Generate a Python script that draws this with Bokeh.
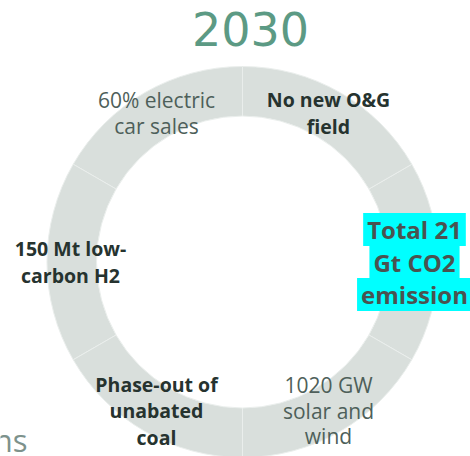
import numpy as np
from bokeh.plotting import figure
from bokeh.models import ColumnDataSource, Range1d
from bokeh.core.properties import value
from bokeh.embed import file_html
from bokeh.resources import INLINE

# ---- data ----
title_text = "2030"
milestones = [
    "Total 21\nGt CO2\nemission",
    "No new O&G\nfield",
    "60% electric\ncar sales",
    "150 Mt low-\ncarbon H2",
    "Phase-out of\nunabated\ncoal",
    "1020 GW\nsolar and\nwind",
]
shares = [1, 1, 1, 1, 1, 1]
is_bold = [True, True, False, True, True, False]
is_highlight = [True, False, False, False, False, False]
side_note = "ns"

# ---- geometry (pixel-like data space) ----
W, H = 470, 456
cx, cy = 242, 194.5
r_in, r_out = 146, 195.5
r_lab = 172

total = float(sum(shares))
cum = np.concatenate([[0], np.cumsum(shares)[:-1]])
start = -np.pi / 6 + 2 * np.pi * cum / total
end = start + 2 * np.pi * np.array(shares) / total
mid = (start + end) / 2

p = figure(width=W, height=H, x_range=Range1d(0, W), y_range=Range1d(0, H),
           output_backend="svg", toolbar_location=None, min_border=0)
p.axis.visible = False
p.grid.visible = False
p.outline_line_color = None
p.background_fill_color = "white"
p.border_fill_color = "white"

ring = ColumnDataSource(dict(start=start, end=end))
p.annular_wedge(x=cx, y=cy, inner_radius=r_in, outer_radius=r_out,
                start_angle="start", end_angle="end", source=ring,
                fill_color="#d9dfdc", line_color="#eaeeec", line_width=1)

# title
p.text(x=[250], y=[427.5], text=[title_text], text_font=value("DejaVu Sans"),
       text_font_size="46px", text_color="#5c9a84", text_align="center",
       text_baseline="middle")

# labels
lx = cx + r_lab * np.cos(mid)
ly = cy + r_lab * np.sin(mid)
reg = dict(x=[], y=[], t=[])
bld = dict(x=[], y=[], t=[])
hl = dict(x=[], y=[], t=[])
for i, lab in enumerate(milestones):
    if is_highlight[i]:
        lines = lab.split("\n")
        n = len(lines)
        step = 32.5
        for j, ln in enumerate(lines):
            hl["x"].append(lx[i])
            hl["y"].append(ly[i] + ((n - 1) / 2 - j) * step)
            hl["t"].append(ln)
    elif is_bold[i]:
        bld["x"].append(lx[i]); bld["y"].append(ly[i]); bld["t"].append(lab)
    else:
        reg["x"].append(lx[i]); reg["y"].append(ly[i]); reg["t"].append(lab)

p.text(x="x", y="y", text="t", source=ColumnDataSource(reg),
       text_font=value("Open Sans"), text_font_size="21px", text_color="#4e5f5a",
       text_align="center", text_baseline="middle", text_line_height=0.91)
p.text(x="x", y="y", text="t", source=ColumnDataSource(bld),
       text_font=value("Open Sans"), text_font_style="bold", text_font_size="19.5px",
       text_color="#26332f", text_align="center", text_baseline="middle",
       text_line_height=0.98)
p.text(x="x", y="y", text="t", source=ColumnDataSource(hl),
       text_font=value("Open Sans"), text_font_style="bold", text_font_size="24px",
       text_color="#4a5350", text_align="center", text_baseline="middle",
       background_fill_color="#00ffff",
       padding=dict(left=4, right=4, top=0, bottom=0))

# cut-off note at bottom left
p.text(x=[27], y=[17], text=[side_note], text_font=value("Open Sans"),
       text_font_size="31px", text_color="#7d928c", text_align="right",
       text_baseline="middle")

open("out.html", "w").write(file_html(p, INLINE))
